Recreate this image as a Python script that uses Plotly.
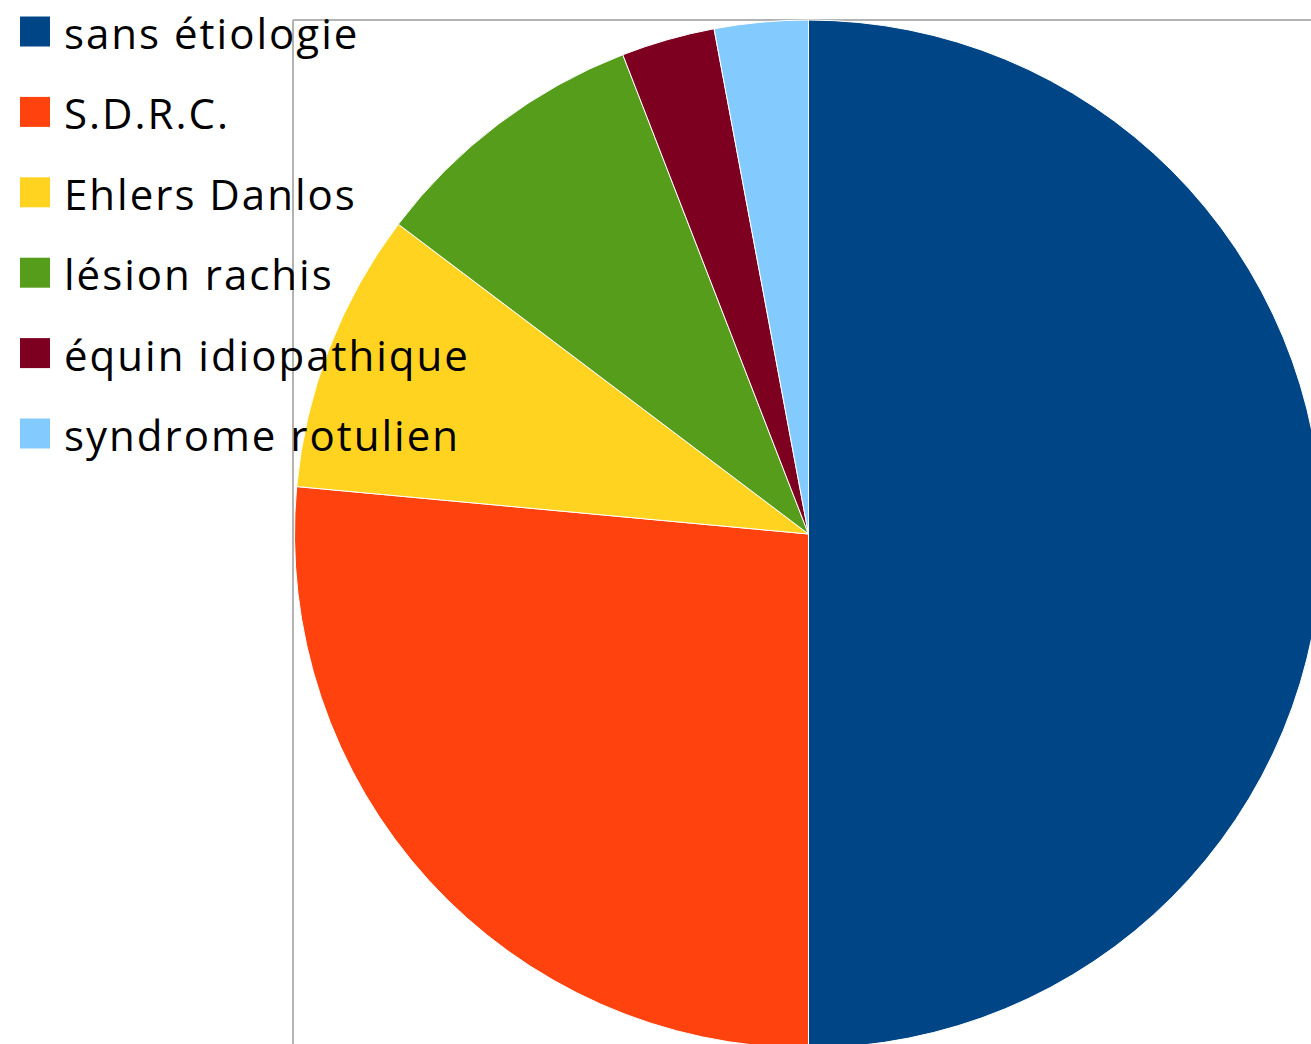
import plotly.graph_objects as go

# ---- data ----
categories = ["sans étiologie", "S.D.R.C.", "Ehlers Danlos", "lésion rachis",
              "équin idiopathique", "syndrome rotulien"]
counts = [17, 9, 3, 3, 1, 1]
colors = ["#004586", "#ff420e", "#ffd320", "#579d1c", "#7e0021", "#83caff"]

# ---- layout constants (pixels) ----
# the reference crops the pie on the right and at the bottom
W, H = 1323, 1048
cx, cy, r = 808.5, 534.0, 514.0

fig = go.Figure(
    go.Pie(
        labels=categories,
        values=counts,
        marker=dict(colors=colors, line=dict(color="white", width=1)),
        sort=False,
        direction="clockwise",
        rotation=0,
        textinfo="none",
        showlegend=False,
        domain=dict(x=[(cx - r) / W, min(1.0, (cx + r) / W)],
                    y=[max(0.0, (H - cy - r) / H), min(1.0, (H - cy + r) / H)]),
    )
)

shapes = []
frame_col = "#b3b3b3"
shapes.append(dict(type="line", xref="paper", yref="paper", layer="below",
                   x0=293 / W, x1=1.0, y0=1 - 20 / H, y1=1 - 20 / H,
                   line=dict(color=frame_col, width=2)))
shapes.append(dict(type="line", xref="paper", yref="paper", layer="below",
                   x0=293 / W, x1=293 / W, y0=0, y1=1 - 20 / H,
                   line=dict(color=frame_col, width=2)))

annotations = []
row0, row_gap, sq = 31.5, 80.4, 30
for i, (cat, col) in enumerate(zip(categories, colors)):
    yc = row0 + row_gap * i
    shapes.append(dict(type="rect", xref="paper", yref="paper", layer="above",
                       x0=20 / W, x1=(20 + sq) / W,
                       y0=1 - (yc + sq / 2) / H, y1=1 - (yc - sq / 2) / H,
                       fillcolor=col, line=dict(width=0)))
    annotations.append(dict(
        xref="paper", yref="paper", x=62 / W, y=1 - (yc + 1) / H,
        xanchor="left", yanchor="middle", showarrow=False,
        text='<span style="letter-spacing:2px">' + cat + '</span>',
        font=dict(family="Open Sans", size=42, color="black"),
    ))

fig.update_layout(
    width=W, height=H,
    margin=dict(l=0, r=0, t=0, b=0),
    paper_bgcolor="white", plot_bgcolor="white",
    shapes=shapes, annotations=annotations,
    showlegend=False,
)

fig.write_html("out.html")
